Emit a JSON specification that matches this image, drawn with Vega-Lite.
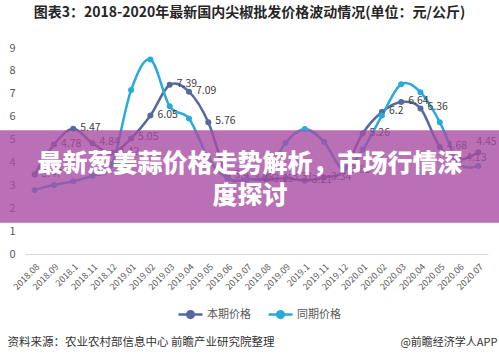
{
  "$schema": "https://vega.github.io/schema/vega-lite/v6.json",
  "width": 463,
  "height": 206,
  "autosize": {"type": "none"},
  "padding": {"left": 25, "top": 48, "right": 11, "bottom": 108},
  "background": "white",
  "title": {
    "text": "图表3：2018-2020年最新国内尖椒批发价格波动情况(单位：元/公斤)",
    "fontSize": 14,
    "font": "Noto Sans CJK SC",
    "fontWeight": "bold",
    "color": "#262626",
    "anchor": "middle",
    "dx": -7,
    "offset": 22
  },
  "config": {"view": {"stroke": null}, "font": "Noto Sans CJK SC"},
  "datasets": {
    "prices": [
      {"month": "2018.08", "series": "本期价格", "price": 3.47},
      {"month": "2018.09", "series": "本期价格", "price": 4.78},
      {"month": "2018.1", "series": "本期价格", "price": 5.47},
      {"month": "2018.11", "series": "本期价格", "price": 4.84},
      {"month": "2018.12", "series": "本期价格", "price": 4.42},
      {"month": "2019.01", "series": "本期价格", "price": 5.05},
      {"month": "2019.02", "series": "本期价格", "price": 6.05},
      {"month": "2019.03", "series": "本期价格", "price": 7.39},
      {"month": "2019.04", "series": "本期价格", "price": 7.09},
      {"month": "2019.05", "series": "本期价格", "price": 5.76},
      {"month": "2019.06", "series": "本期价格", "price": 3.4},
      {"month": "2019.07", "series": "本期价格", "price": 3.28},
      {"month": "2019.08", "series": "本期价格", "price": 3.25},
      {"month": "2019.09", "series": "本期价格", "price": 3.31},
      {"month": "2019.1", "series": "本期价格", "price": 3.21},
      {"month": "2019.11", "series": "本期价格", "price": 3.34},
      {"month": "2019.12", "series": "本期价格", "price": 3.62},
      {"month": "2020.01", "series": "本期价格", "price": 5.26},
      {"month": "2020.02", "series": "本期价格", "price": 6.2},
      {"month": "2020.03", "series": "本期价格", "price": 6.64},
      {"month": "2020.04", "series": "本期价格", "price": 6.36},
      {"month": "2020.05", "series": "本期价格", "price": 4.68},
      {"month": "2020.06", "series": "本期价格", "price": 4.13},
      {"month": "2020.07", "series": "本期价格", "price": 4.45},
      {"month": "2018.08", "series": "同期价格", "price": 2.8},
      {"month": "2018.09", "series": "同期价格", "price": 3.02},
      {"month": "2018.1", "series": "同期价格", "price": 3.18},
      {"month": "2018.11", "series": "同期价格", "price": 3.42},
      {"month": "2018.12", "series": "同期价格", "price": 3.9},
      {"month": "2019.01", "series": "同期价格", "price": 7.16},
      {"month": "2019.02", "series": "同期价格", "price": 8.5},
      {"month": "2019.03", "series": "同期价格", "price": 6.45},
      {"month": "2019.04", "series": "同期价格", "price": 5.92},
      {"month": "2019.05", "series": "同期价格", "price": 4.2},
      {"month": "2019.06", "series": "同期价格", "price": 3.3},
      {"month": "2019.07", "series": "同期价格", "price": 3.25},
      {"month": "2019.08", "series": "同期价格", "price": 3.45},
      {"month": "2019.09", "series": "同期价格", "price": 4.85},
      {"month": "2019.1", "series": "同期价格", "price": 5.46},
      {"month": "2019.11", "series": "同期价格", "price": 4.9},
      {"month": "2019.12", "series": "同期价格", "price": 3.7},
      {"month": "2020.01", "series": "同期价格", "price": 4.55},
      {"month": "2020.02", "series": "同期价格", "price": 6.05},
      {"month": "2020.03", "series": "同期价格", "price": 7.42},
      {"month": "2020.04", "series": "同期价格", "price": 7.07},
      {"month": "2020.05", "series": "同期价格", "price": 5.76},
      {"month": "2020.06", "series": "同期价格", "price": 3.95},
      {"month": "2020.07", "series": "同期价格", "price": 3.85}
    ],
    "banner": [
      {"kind": "box", "x0": -0.054, "x1": 1.024, "y0": 5.41, "y1": 1.36},
      {"kind": "text", "x0": 0.486, "y0": 3.93, "label": "最新葱姜蒜价格走势解析，市场行情深"},
      {"kind": "text", "x0": 0.486, "y0": 2.53, "label": "度探讨"}
    ]
  },
  "layer": [
    {
      "data": {"name": "prices"},
      "encoding": {
        "x": {
          "field": "month",
          "type": "ordinal",
          "sort": null,
          "scale": {"type": "point", "padding": 0.5},
          "axis": {
            "labelAngle": -45,
            "labelFontSize": 9,
            "labelColor": "#595959",
            "labelOverlap": false,
            "labelPadding": 8,
            "ticks": false,
            "grid": false,
            "domain": true,
            "domainColor": "#d9d9d9",
            "domainWidth": 1,
            "title": "资料来源：农业农村部信息中心 前瞻产业研究院整理",
            "titleAlign": "left",
            "titleAnchor": "start",
            "titleBaseline": "middle",
            "titleX": -18,
            "titleY": 88,
            "titleFontSize": 11.5,
            "titleFontWeight": "normal",
            "titleColor": "#333333"
          }
        },
        "y": {
          "field": "price",
          "type": "quantitative",
          "scale": {"domain": [0, 9], "nice": false},
          "axis": {
            "values": [0, 1, 2, 3, 4, 5, 6, 7, 8, 9],
            "labelOverlap": false,
            "grid": false,
            "ticks": false,
            "domain": false,
            "labelColor": "#595959",
            "labelFontSize": 11,
            "labelPadding": 10,
            "title": "@前瞻经济学人APP",
            "titleAngle": 0,
            "titleAlign": "right",
            "titleBaseline": "middle",
            "titleX": 472,
            "titleY": 294,
            "titleFontSize": 11,
            "titleFontWeight": "normal",
            "titleColor": "#333333"
          }
        },
        "color": {
          "field": "series",
          "type": "nominal",
          "scale": {"domain": ["本期价格", "同期价格"], "range": ["#56699f", "#2aaad8"]},
          "legend": {
            "orient": "none",
            "legendX": 152,
            "legendY": 253,
            "direction": "horizontal",
            "title": null,
            "symbolType": "M-1,0L1,0M-0.28,0A0.28,0.28,0,1,0,0.28,0A0.28,0.28,0,1,0,-0.28,0Z",
            "symbolSize": 576,
            "symbolStrokeWidth": 2.5,
            "labelFontSize": 11,
            "labelColor": "#595959",
            "columnPadding": 12,
            "labelOffset": 3,
            "encode": {"symbols": {"update": {"fill": {"scale": "color", "field": "value"}}}}
          }
        }
      },
      "layer": [
        {"mark": {"type": "line", "interpolate": "cardinal", "strokeWidth": 2.5}},
        {"mark": {"type": "point", "filled": true, "size": 36, "opacity": 1}},
        {
          "transform": [{"filter": "datum.series === '本期价格' && datum.month !== '2020.07'"}],
          "mark": {"type": "text", "align": "left", "baseline": "middle", "dx": 7, "dy": -1, "fontSize": 10.5},
          "encoding": {
            "text": {"field": "price", "type": "quantitative"},
            "color": {"value": "#404040"}
          }
        },
        {
          "transform": [{"filter": "datum.series === '本期价格' && datum.month === '2020.07'"}],
          "mark": {"type": "text", "align": "center", "baseline": "middle", "dx": 8, "dy": -10, "fontSize": 10.5},
          "encoding": {
            "text": {"field": "price", "type": "quantitative"},
            "color": {"value": "#404040"}
          }
        }
      ]
    },
    {
      "data": {"name": "banner"},
      "layer": [
        {
          "transform": [{"filter": "datum.kind === 'box'"}],
          "mark": {"type": "rect", "fill": "#a84ca2", "opacity": 0.8, "clip": false},
          "encoding": {
            "x": {"field": "x0", "type": "quantitative", "scale": {"domain": [0, 1], "nice": false, "zero": false}, "axis": null},
            "x2": {"field": "x1"},
            "y": {"field": "y0", "type": "quantitative", "scale": {"domain": [0, 9], "nice": false}, "axis": null},
            "y2": {"field": "y1"}
          }
        },
        {
          "transform": [{"filter": "datum.kind === 'text'"}],
          "mark": {"type": "text", "color": "white", "fontSize": 25, "fontWeight": 900, "font": "Noto Sans CJK SC", "align": "center", "baseline": "middle"},
          "encoding": {
            "x": {"field": "x0", "type": "quantitative"},
            "y": {"field": "y0", "type": "quantitative", "axis": null},
            "text": {"field": "label"}
          }
        }
      ]
    }
  ],
  "resolve": {"scale": {"x": "independent"}, "axis": {"y": "independent"}}
}
